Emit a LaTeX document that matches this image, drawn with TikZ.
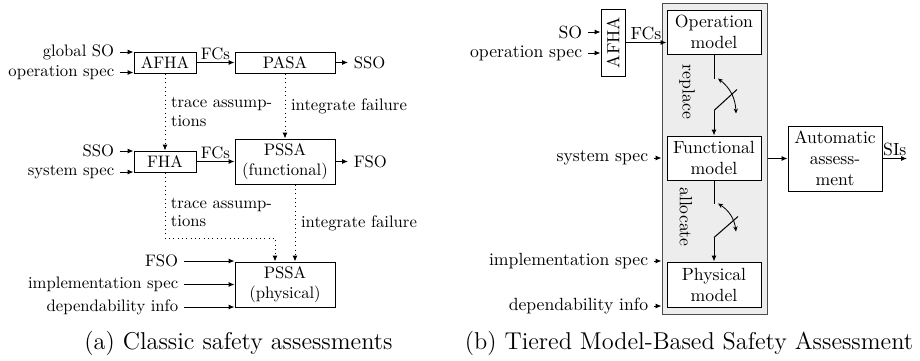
\documentclass[tikz,border=0pt]{standalone}
\usepackage{graphicx}
\usetikzlibrary{arrows.meta,calc}
\newcommand\lfnt{\fontsize{10}{12}\selectfont}
\newcommand\lfntt{\fontsize{10}{11}\selectfont}
\newcommand\rfnt{\fontsize{10.6}{12.6}\selectfont}
\newcommand\cfnt{\fontsize{14.6}{17}\selectfont}
\begin{document}
\begin{tikzpicture}[x=0.6pt,y=-0.6pt,
  box/.style={draw, line width=0.6pt, fill=white, inner sep=0pt, align=center},
  lbl/.style={inner sep=3.3pt},
  edgelbl/.style={above, inner sep=1.5pt},
  conn/.style={line width=0.6pt},
  arr/.style={conn, -{Latex[length=3.5pt,width=3pt]}},
  dotarr/.style={arr, dotted},
  dblarr/.style={line width=0.5pt, {Stealth[length=3pt,width=2.6pt]}-{Stealth[length=3pt,width=2.6pt]}},
  grpbox/.style={draw=black!70, line width=0.6pt, fill=black!7, inner sep=0pt}]
\useasboundingbox (0,0) rectangle (920,360);

% ---------------- (a) ----------------
\begin{scope}[font=\lfnt]
\node[box, minimum width=37.2pt, minimum height=12.6pt] (AFHA) at (165,62.5) {AFHA};
\node[box, minimum width=60pt, minimum height=12.6pt] (PASA) at (285,62.5) {PASA};
\node[box, minimum width=37.2pt, minimum height=12.6pt] (FHA) at (165,161.5) {FHA};
\node[box, minimum width=60pt, minimum height=27pt] (PSSAf) at (285,161.5) {PSSA\\(functional)};
\node[box, minimum width=60pt, minimum height=27pt] (PSSAp) at (285,284.5) {PSSA\\(physical)};

\node[lbl, anchor=east] (gso) at (120,52) {global SO};
\node[lbl, anchor=east] (ops) at (120,72.5) {operation spec};
\node[lbl, anchor=east] (sso1) at (120,151) {SSO};
\node[lbl, anchor=east] (sys1) at (120,172) {system spec};
\node[lbl, anchor=east] (fso1) at (184,261) {FSO};
\node[lbl, anchor=east] (imp1) at (184,284.5) {implementation spec};
\node[lbl, anchor=east] (dep1) at (184,307) {dependability info};
\node[lbl, anchor=west] (sso2) at (348,62.5) {SSO};
\node[lbl, anchor=west] (fso2) at (348,161.5) {FSO};

\draw[arr] (gso.east) -- (gso.east -| AFHA.west);
\draw[arr] (ops.east) -- (ops.east -| AFHA.west);
\draw[arr] (sso1.east) -- (sso1.east -| FHA.west);
\draw[arr] (sys1.east) -- (sys1.east -| FHA.west);
\draw[arr] (fso1.east) -- (fso1.east -| PSSAp.west);
\draw[arr] (imp1.east) -- (imp1.east -| PSSAp.west);
\draw[arr] (dep1.east) -- (dep1.east -| PSSAp.west);
\draw[arr] (PASA.east) -- (sso2.west);
\draw[arr] (PSSAf.east) -- (fso2.west);

\draw[arr] (AFHA.east) -- node[edgelbl] (fc1) {FCs} (PASA.west);
\draw[arr] (FHA.east) -- node[edgelbl] (fc2) {FCs} (FHA.east -| PSSAf.west);

\draw[dotarr] (AFHA.south) -- node[right, align=left, font=\lfntt] (ta1) {trace assump-\\tions} (FHA.north);
\draw[dotarr] (PASA.south) -- node[right] (if1) {integrate failure} (PASA.south |- PSSAf.north);

\coordinate (c1) at (275,238);
\draw[dotarr] (FHA.south) |- (c1) -- (c1 |- PSSAp.north);
\node[right, align=left, font=\lfntt] (ta2) at (165,212.5) {trace assump-\\tions};
\draw[dotarr] ($(PSSAf.south)+(10,0)$) -- node[right] (if2) {integrate failure} ($(PSSAp.north)+(10,0)$);
\end{scope}

\node[font=\cfnt] (capa) at (238.5,343) {(a) Classic safety assessments};

% ---------------- (b) ----------------
\begin{scope}[font=\rfnt]
\node[grpbox, minimum width=63pt, minimum height=186.6pt] (grp) at (714.5,158.5) {};
\node[box, minimum width=56.4pt, minimum height=26.4pt] (OpM) at (714,32) {Operation\\model};
\node[box, minimum width=56.4pt, minimum height=26.4pt] (FunM) at (714,158) {Functional\\model};
\node[box, minimum width=56.4pt, minimum height=27pt] (PhyM) at (714,284.5) {Physical\\model};
\node[box, minimum width=14.4pt, minimum height=40.2pt] (AFHA2) at (613,42.5) {\rotatebox{90}{AFHA}};
\node[box, minimum width=56.4pt, minimum height=39pt] (Auto) at (835,158.5) {Automatic\\assess-\\ment};

\node[lbl, anchor=east] (so) at (588,32) {SO};
\node[lbl, anchor=east] (ops2) at (588,53) {operation spec};
\node[lbl, anchor=east] (sys2) at (654,158) {system spec};
\node[lbl, anchor=east] (imp2) at (654,261) {implementation spec};
\node[lbl, anchor=east] (dep2) at (654,306) {dependability info};

\draw[arr] (so.east) -- (so.east -| AFHA2.west);
\draw[arr] (ops2.east) -- (ops2.east -| AFHA2.west);
\draw[arr] (AFHA2.east) -- node[edgelbl] (fc3) {FCs} (AFHA2.east -| OpM.west);
\draw[arr] (sys2.east) -- (sys2.east -| grp.west);
\draw[arr] (imp2.east) -- (imp2.east -| grp.west);
\draw[arr] (dep2.east) -- (dep2.east -| grp.west);
\draw[arr] (grp.east) -- (Auto.west);
\coordinate (siend) at (907,158.5);
\draw[arr] (Auto.east) -- node[edgelbl] (sis) {SIs} (siend);

% switch 1
\coordinate (s1a) at ($(OpM.south)+(0,24)$);
\coordinate (s1p) at ($(OpM.south)+(0,56)$);
\coordinate (s1b) at ($(s1p)+(23,-21)$);
\draw[conn] (OpM.south) -- (s1a);
\draw[conn] (s1p) -- (s1b);
\draw[arr] (s1p) -- (FunM.north);
\draw[dblarr] ($(s1a)+(4,0)$) to[bend left=25] ($(s1p)+(22,3)$);
\node[rotate=-90] (rep) at (687,92) {replace};

% switch 2
\coordinate (s2a) at ($(FunM.south)+(0,23)$);
\coordinate (s2p) at ($(FunM.south)+(0,57)$);
\coordinate (s2b) at ($(s2p)+(24,-21)$);
\draw[conn] (FunM.south) -- (s2a);
\draw[conn] (s2p) -- (s2b);
\draw[arr] (s2p) -- (PhyM.north);
\draw[dblarr] ($(s2a)+(4,0)$) to[bend left=25] ($(s2p)+(22,-6)$);
\node[rotate=-90] (alc) at (686,217) {allocate};
\end{scope}

\node[font=\cfnt] (capb) at (689,343) {(b) Tiered Model-Based Safety Assessment};
\end{tikzpicture}
\end{document}
